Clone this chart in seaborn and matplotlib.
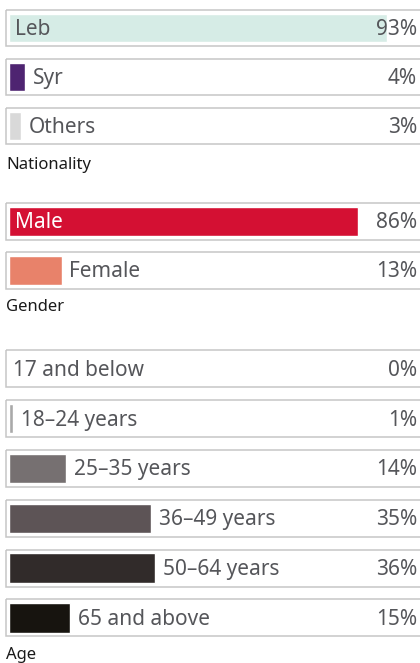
import matplotlib
matplotlib.use("Agg")
import matplotlib.pyplot as plt
from matplotlib.patches import Rectangle
import seaborn as sns
import pandas as pd

# Survey profile data (percent of respondents)
nationality_labels = ["Leb", "Syr", "Others"]
nationality_values = [93, 4, 3]
nationality_colors = ["#d6ece6", "#4e2471", "#d9d9d9"]

gender_labels = ["Male", "Female"]
gender_values = [86, 13]
gender_colors = ["#d41033", "#e8826a"]

age_labels = ["17 and below", "18–24 years", "25–35 years",
              "36–49 years", "50–64 years", "65 and above"]
age_values = [0, 1, 14, 35, 36, 15]
age_colors = ["#bdbdbd", "#a9a9a9", "#767071", "#5d5456", "#312b2a", "#17140f"]

section_titles = ["Nationality", "Gender", "Age"]

sns.set_theme(style="white")
plt.rcParams["font.family"] = ["Noto Sans", "DejaVu Sans"]

W, H = 420, 663
fig = plt.figure(figsize=(W / 100, H / 100), dpi=100)

PX_PER_UNIT = 4.06          # pixels per percentage point
BAR_X0 = 9                  # pixel where a bar starts
XMIN = -BAR_X0 / PX_PER_UNIT
XMAX = (W - BAR_X0) / PX_PER_UNIT
TEXT_GREY = "#55565a"


def draw_section(labels, values, colors, top_px, pitch_px, title, title_y_px):
    n = len(labels)
    height_px = n * pitch_px
    ax = fig.add_axes([0, 1 - (top_px + height_px) / H, 1, height_px / H])
    df = pd.DataFrame({"label": labels, "value": values})
    sns.barplot(data=df, x="value", y="label", hue="label",
                palette=dict(zip(labels, colors)), orient="h",
                width=0.59, legend=False, ax=ax, saturation=1)
    ax.set_xlim(XMIN, XMAX)
    ax.set_ylim(n - 0.5, -0.5)
    ax.set_axis_off()
    box_h = 0.74
    for i, (lab, val) in enumerate(zip(labels, values)):
        ax.add_patch(Rectangle((-3 / PX_PER_UNIT, i - box_h / 2),
                               XMAX + 5, box_h, facecolor="none",
                               edgecolor="#c6c6c6", linewidth=1.1,
                               zorder=0.5, clip_on=False))
        if val >= 50:
            x_lab, col = 1.4, ("white" if lab == "Male" else TEXT_GREY)
        elif val > 0:
            x_lab, col = val + 1.9, TEXT_GREY
        else:
            x_lab, col = 0.9, TEXT_GREY
        ax.text(x_lab, i + 0.03, lab, ha="left", va="center",
                fontsize=15, color=col)
        ax.text((417 - BAR_X0) / PX_PER_UNIT, i + 0.03, f"{val}%",
                ha="right", va="center", fontsize=15,
                color=TEXT_GREY, fontweight="medium")
    fig.text(6 / W, 1 - title_y_px / H, title, ha="left", va="center",
             fontsize=12, color="#1a1a1a")


draw_section(nationality_labels, nationality_values, nationality_colors,
             3.5, 49, section_titles[0], 165)
draw_section(gender_labels, gender_values, gender_colors,
             197, 49, section_titles[1], 307)
draw_section(age_labels, age_values, age_colors,
             344, 49.8, section_titles[2], 655)

fig.savefig("out.png", dpi=100)
